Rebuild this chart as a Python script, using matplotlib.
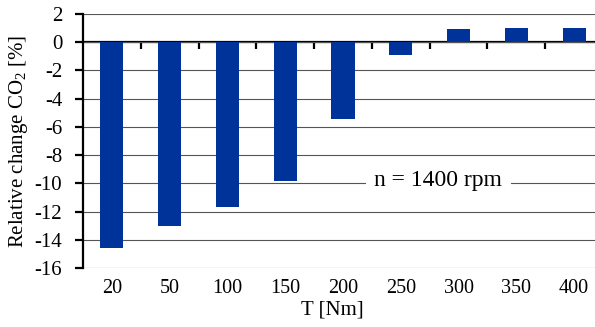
import matplotlib
matplotlib.use("Agg")
import matplotlib.pyplot as plt
import numpy as np

torque = ["20", "50", "100", "150", "200", "250", "300", "350", "400"]
change_co2 = [-14.6, -13.0, -11.65, -9.8, -5.45, -0.9, 0.95, 1.0, 1.0]

plt.rcParams['font.family'] = ['Liberation Serif', 'DejaVu Serif']
plt.rcParams['mathtext.fontset'] = 'custom'
plt.rcParams['mathtext.rm'] = 'Liberation Serif'
plt.rcParams['axes.unicode_minus'] = False

fig = plt.figure(figsize=(5.95, 3.27), dpi=100)
ax = fig.add_axes([83/595, 1-268/327, (603-83)/595, (268-14)/327])

x = np.arange(len(torque))
ax.bar(x, change_co2, width=0.4, color='#003399', zorder=3)

ax.set_xlim(-0.5, len(torque) - 0.5)
ax.set_ylim(-16, 2)
ax.set_yticks(np.arange(-16, 3, 2))
ax.yaxis.grid(True, color='#555555', lw=0.8, zorder=0)
ax.set_axisbelow(True)

for s in ['top', 'right', 'bottom']:
    ax.spines[s].set_visible(False)
ax.spines['left'].set_linewidth(1.6)
ax.tick_params(axis='y', direction='out', length=6, width=1.6, labelsize=15, pad=9)

ax.set_xticks(x)
ax.set_xticklabels(torque)
ax.tick_params(axis='x', length=0, labelsize=14.5, pad=8)

# zero line with tick marks between categories
sec = ax.secondary_xaxis(16/18)
sec.xaxis.set_ticks_position('bottom')
for s in ['top', 'bottom']:
    sec.spines[s].set_linewidth(1.6)
sec.set_xticks(np.arange(0.5, len(torque) - 1, 1.0))
sec.tick_params(axis='x', direction='out', length=5, width=1.6,
                labelbottom=False, labeltop=False, top=False, bottom=True)

ax.set_xlabel("T [Nm]", fontsize=15)
ax.xaxis.set_label_coords((332-83)/520, -(301-268)/254, transform=ax.transAxes)
ax.set_ylabel("Relative change CO$_2$ [%]", fontsize=15)
ax.yaxis.set_label_coords(-(83-30)/520, 0.5, transform=ax.transAxes)

ax.text(5.65, -9.8, "n = 1400 rpm", fontsize=17, ha='center', va='center',
        bbox=dict(facecolor='white', edgecolor='none', pad=6), zorder=4)

fig.savefig("out.png", dpi=100)
